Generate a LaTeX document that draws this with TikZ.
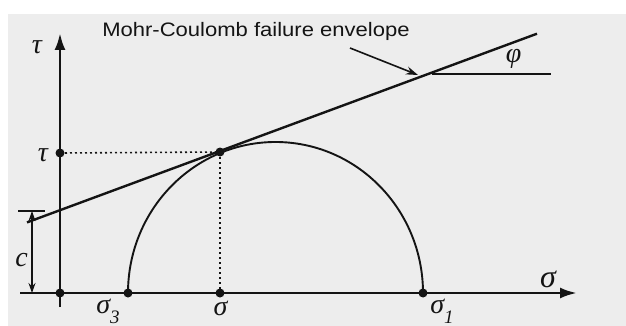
\documentclass[tikz,border=0pt]{standalone}
\usepackage{fontspec}
\setmainfont{Liberation Serif}
\newfontfamily\labfont{Liberation Sans}
\usetikzlibrary{arrows.meta}
\definecolor{bggray}{RGB}{237,237,237}
\definecolor{ink}{RGB}{20,20,20}
\begin{document}
\begin{tikzpicture}[x=1pt,y=-1pt,
  dot/.style={circle,fill=ink,inner sep=0pt,minimum size=9pt},
  grk/.style={inner sep=0pt,text=ink,font=\fontsize{28}{30}\selectfont\itshape},
  axis/.style={line width=2.8pt,draw=ink,-{Latex[length=17pt,width=11pt]}},
  helper/.style={line width=1.6pt,draw=ink,dash pattern=on 2pt off 3pt},
  envl/.style={line width=2.4pt,draw=ink},
  mohr/.style={line width=1.9pt,draw=ink},
  dimarrow/.style={line width=1.1pt,draw=ink,{Stealth[length=10pt,width=7pt]}-{Stealth[length=10pt,width=7pt]}},
  pointer/.style={line width=1.6pt,draw=ink,-{Stealth[length=12pt,width=8pt]}}]
\useasboundingbox (0,0) rectangle (626,326);
\fill[white] (0,0) rectangle (626,326);
\fill[bggray] (8,14) rectangle (626,326);
% axes
\coordinate (xs) at (20,293);
\coordinate (xe) at (577,293);
\coordinate (ys) at (60,307);
\coordinate (ye) at (60,33);
\draw[axis] (xs) -- (xe);
\draw[axis] (ys) -- (ye);
% points
\node[dot] (o) at (60,293) {};
\node[dot] (s3) at (128,293) {};
\node[dot] (s) at (220,293) {};
\node[dot] (s1) at (423,293) {};
\node[dot] (t) at (60,153) {};
\node[dot] (p) at (220,152) {};
% Mohr circle
\draw[mohr] (s3.center) arc[start angle=180,end angle=0,x radius=147.5pt,y radius=151pt];
% helper lines
\draw[helper] (t.center) -- (p.center);
\draw[helper] (p.center) -- (s.center);
% envelope
\coordinate (el) at (27,222.4);
\coordinate (er) at (537,33.7);
\draw[envl] (el) -- (er);
% phi reference line
\coordinate (ha) at (432,74);
\coordinate (hb) at (551,74);
\draw[mohr] (ha) -- (hb);
% cohesion dimension
\coordinate (ca) at (18,211);
\coordinate (cb) at (45,211);
\coordinate (ct) at (32,211);
\coordinate (cbot) at (32,293);
\draw[line width=1.4pt,draw=ink] (ca) -- (cb);
\draw[dimarrow] (ct) -- (cbot);
% labels
\node[inner sep=0pt,text=ink,anchor=base] (title) at (256,37)
  {\scalebox{1.13}[1]{\labfont\fontsize{19.5}{21}\selectfont Mohr-Coulomb failure envelope}};
\coordinate (tip) at (418,75);
\coordinate (tail) at (350,48);
\draw[pointer] (tail) -- (tip);
\node[grk] (tautop) at (37,47) {τ};
\node[grk] (taulow) at (43,155) {τ};
\node[grk] (clab) at (21.5,260) {c};
\node[grk] (s3lab) at (108,311) {σ\raisebox{-0.35em}{\fontsize{19}{20}\selectfont 3}};
\node[grk] (slab) at (220.5,308.5) {σ};
\node[grk] (s1lab) at (442,311) {σ\raisebox{-0.35em}{\fontsize{19}{20}\selectfont 1}};
\node[grk,font=\fontsize{32}{34}\selectfont\itshape] (sbig) at (548,279.5) {σ};
\node[grk] (phi) at (513.5,59) {φ};
\end{tikzpicture}
\end{document}
